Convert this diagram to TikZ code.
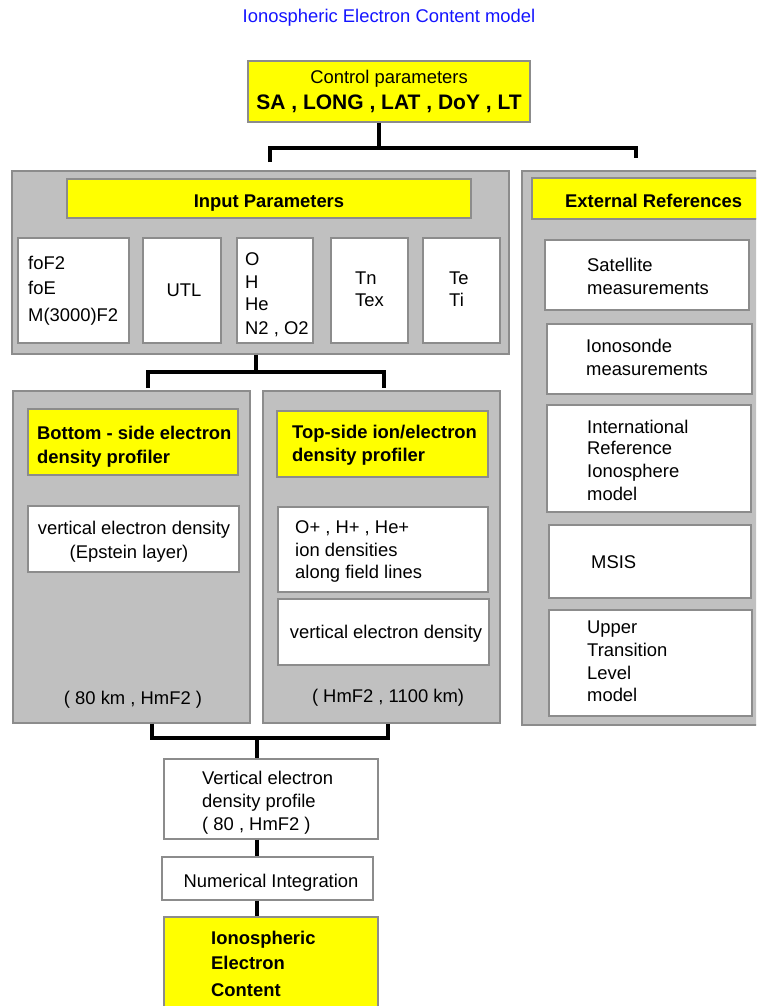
\documentclass[tikz,border=0pt]{standalone}
\usepackage{fontspec}
\setmainfont{Liberation Sans}
\usetikzlibrary{fit}
\definecolor{panelgray}{RGB}{192,192,192}
\definecolor{edgegray}{RGB}{140,140,140}
\definecolor{ylw}{RGB}{255,255,0}
\definecolor{ttlblue}{RGB}{20,20,255}
\begin{document}
\begin{tikzpicture}[x=1pt,y=-1pt,
  panel/.style={draw=edgegray, fill=panelgray, line width=1.3pt, inner sep=0pt},
  ybox/.style={draw=edgegray, fill=ylw, line width=1.3pt, inner sep=0pt},
  wbox/.style={draw=edgegray, fill=white, line width=1.3pt, inner sep=0pt},
  conn/.style={line width=3.2pt, black},
  tl/.style={font=\fontsize{18.4}{22}\selectfont, inner sep=0pt, anchor=base west},
  tlb/.style={font=\fontsize{18.4}{22}\selectfont\bfseries, inner sep=0pt, anchor=base west},
  tc/.style={font=\fontsize{18.4}{22}\selectfont, inner sep=0pt, anchor=base},
  tcb/.style={font=\fontsize{18.4}{22}\selectfont\bfseries, inner sep=0pt, anchor=base}]
\useasboundingbox (0,0) rectangle (756,1006);
\clip (0,0) rectangle (756,1006);
\fill[white] (0,0) rectangle (756,1006);

% title
\node[tc, text=ttlblue] (title) at (389,23) {Ionospheric Electron Content model};

% control parameters
\node[ybox, fit={(248,61) (530,122)}] (ctrl) {};
\node[tc] (ctrl1) at (389,84) {Control parameters};
\node[tcb, font=\fontsize{21}{24}\selectfont\bfseries] (ctrl2) at (389,110) {SA , LONG , LAT , DoY , LT};

% input parameters panel
\node[panel, fit={(12,171) (509,354)}] (inp) {};
\node[ybox, fit={(67,179) (471,218)}] (inph) {};
\node[tcb] (inpht) at (269,207) {Input Parameters};
\node[wbox, fit={(18,238) (129,343)}] (b1) {};
\node[wbox, fit={(143,238) (221,343)}] (b2) {};
\node[wbox, fit={(237,238) (313,343)}] (b3) {};
\node[wbox, fit={(331,238) (408,343)}] (b4) {};
\node[wbox, fit={(423,238) (500,343)}] (b5) {};
\node[tl] (b1a) at (28,269) {foF2};
\node[tl] (b1b) at (28,294) {foE};
\node[tl] (b1c) at (28,321) {M(3000)F2};
\node[tc] (b2a) at (184,296) {UTL};
\node[tl] (b3a) at (245,265) {O};
\node[tl] (b3b) at (245,288) {H};
\node[tl] (b3c) at (245,310) {He};
\node[tl] (b3d) at (245,334) {N2 , O2};
\node[tl] (b4a) at (355,284) {Tn};
\node[tl] (b4b) at (355,306) {Tex};
\node[tl] (b5a) at (449,284) {Te};
\node[tl] (b5b) at (449,306) {Ti};

% external references panel
\node[panel, fit={(522,171) (775,725)}] (ext) {};
\node[ybox, fit={(532,178) (775,219)}] (exth) {};
\node[tlb] (extht) at (565,207) {External References};
\node[wbox, fit={(545,240) (749,310)}] (sat) {};
\node[wbox, fit={(547,324) (752,394)}] (ios) {};
\node[wbox, fit={(547,405) (751,512)}] (iri) {};
\node[wbox, fit={(549,525) (751,598)}] (msis) {};
\node[wbox, fit={(549,610) (752,716)}] (utl) {};
\node[tl] (sat1) at (587,271) {Satellite};
\node[tl] (sat2) at (587,294) {measurements};
\node[tl] (ios1) at (586,352) {Ionosonde};
\node[tl] (ios2) at (586,375) {measurements};
\node[tl] (iri1) at (587,433) {International};
\node[tl] (iri2) at (587,454) {Reference};
\node[tl] (iri3) at (587,477) {Ionosphere};
\node[tl] (iri4) at (587,500) {model};
\node[tl] (msis1) at (591,568) {MSIS};
\node[tl] (utl1) at (587,633) {Upper};
\node[tl] (utl2) at (587,656) {Transition};
\node[tl] (utl3) at (587,679) {Level};
\node[tl] (utl4) at (587,701) {model};

% bottom-side panel
\node[panel, fit={(13,391) (250,723)}] (botp) {};
\node[ybox, fit={(28,409) (238,475)}] (boty) {};
\node[tlb] (boty1) at (37,439) {Bottom - side electron};
\node[tlb] (boty2) at (37,463) {density profiler};
\node[wbox, fit={(28,506) (239,572)}] (botw) {};
\node[tc] (botw1) at (134,534) {vertical electron density};
\node[tc] (botw2) at (129,558) {(Epstein layer)};
\node[tc] (botl) at (133,704) {( 80 km , HmF2 )};

% top-side panel
\node[panel, fit={(263,391) (500,723)}] (topp) {};
\node[ybox, fit={(277,411) (488,477)}] (topy) {};
\node[tlb] (topy1) at (292,438) {Top-side ion/electron};
\node[tlb] (topy2) at (292,461) {density profiler};
\node[wbox, fit={(278,507) (488,592)}] (topw1) {};
\node[tl] (topw1a) at (295,533) {O+ , H+ , He+};
\node[tl] (topw1b) at (295,556) {ion densities};
\node[tl] (topw1c) at (295,578) {along field lines};
\node[wbox, fit={(278,599) (489,665)}] (topw2) {};
\node[tc] (topw2a) at (386,638) {vertical electron density};
\node[tc] (topl) at (388,702) {( HmF2 , 1100 km)};

% lower chain
\node[wbox, fit={(164,759) (378,839)}] (vedp) {};
\node[tl] (vedp1) at (202,784) {Vertical electron};
\node[tl] (vedp2) at (202,807) {density profile};
\node[tl] (vedp3) at (202,830) {( 80 , HmF2 )};
\node[wbox, fit={(162,857) (373,900)}] (numint) {};
\node[tc] (numint1) at (271,887) {Numerical Integration};
\node[ybox, fit={(164,917) (378,1030)}] (iec) {};
\node[tlb] (iec1) at (211,944) {Ionospheric};
\node[tlb] (iec2) at (211,969) {Electron};
\node[tlb] (iec3) at (211,996) {Content};

% connectors
\coordinate (j1) at (379,148);
\coordinate (d1l) at (270,162);
\coordinate (d1r) at (636,158);
\draw[conn] (ctrl.south -| j1) -- (j1);
\draw[conn] (d1l) |- (j1) -| (d1r);

\coordinate (j2) at (256,372);
\coordinate (d2l) at (148,388);
\coordinate (d2r) at (384,388);
\draw[conn] (inp.south -| j2) -- (j2);
\draw[conn] (d2l) |- (j2) -| (d2r);

\coordinate (j3) at (257,738);
\coordinate (b3l) at (152,738);
\coordinate (b3r) at (388,738);
\draw[conn] (botp.south -| b3l) |- (j3) -| (topp.south -| b3r);
\draw[conn] (j3) -- (vedp.north -| j3);
\draw[conn] (vedp.south -| j3) -- (numint.north -| j3);
\draw[conn] (numint.south -| j3) -- (iec.north -| j3);
\end{tikzpicture}
\end{document}
